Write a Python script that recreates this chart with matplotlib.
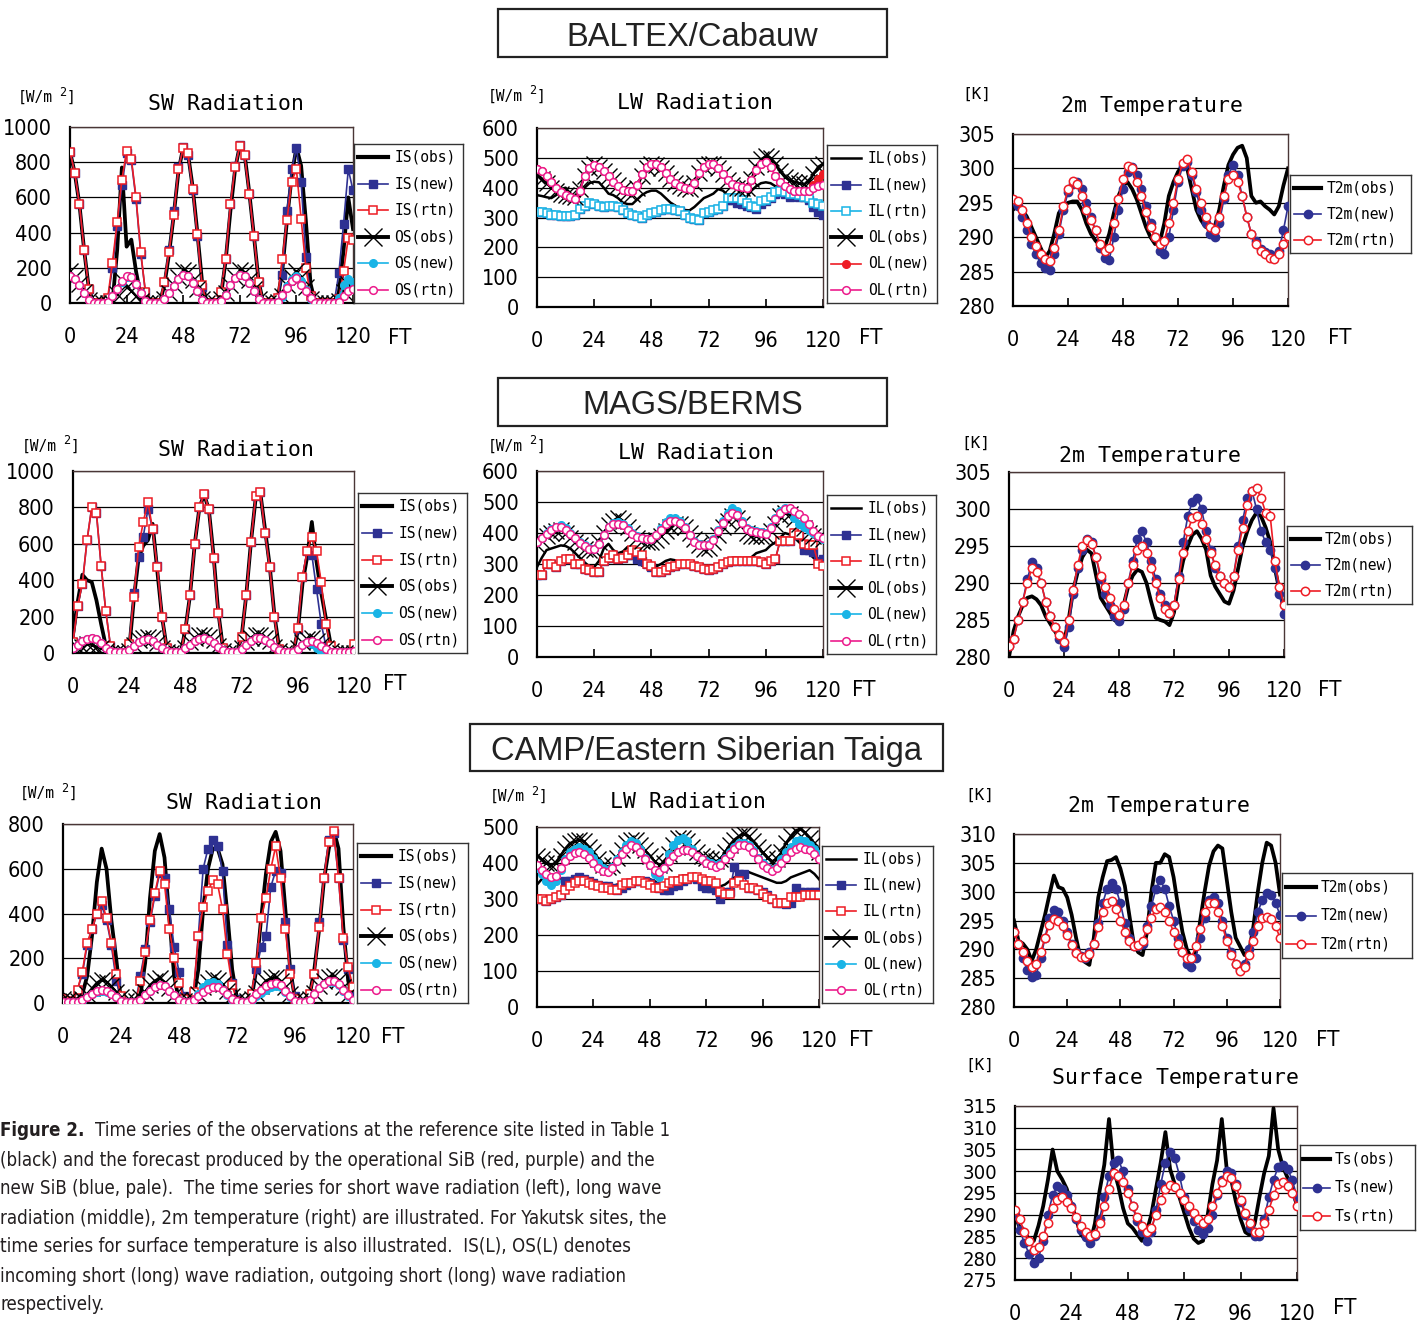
import numpy as np
import matplotlib
matplotlib.use('Agg')
import matplotlib.pyplot as plt
from matplotlib import font_manager as fm
from matplotlib.patches import Rectangle

W, H = 1428, 1321
HOURS = np.arange(0, 121, 2)          # forecast time FT (h), 2-hourly samples
X_TICKS = [0, 24, 48, 72, 96, 120]

# ------------------------------------------------------------------ DATA
# each list: FT 0..22 / 24..46 / 48..70 / 72..94 / 96..118 / 120
# ===== BALTEX/Cabauw =====
IS_obs1 = [860,740,560,300,80,0,0,0,0,0,300,770,
           320,360,180,40,0,0,0,0,100,280,500,750,
           885,850,660,400,120,0,0,0,40,240,520,760,
           895,850,630,380,120,0,0,0,20,180,470,720,
           885,780,470,110,0,0,0,0,0,60,300,600,
           420]
IS_new1 = [860,740,560,300,80,0,0,0,20,200,440,670,
           850,810,590,280,60,0,0,0,120,300,520,770,
           885,840,640,380,90,0,0,0,60,250,560,780,
           895,840,620,380,120,0,0,0,30,160,520,760,
           880,690,260,40,0,0,0,0,0,170,450,760,
           640]
IS_rtn1 = [860,740,560,300,80,0,0,0,30,230,460,700,
           865,820,600,290,60,0,0,0,120,290,500,760,
           880,850,650,390,100,0,0,0,60,250,560,770,
           890,840,620,380,120,0,0,0,30,250,470,690,
           760,480,200,40,0,0,0,0,0,20,180,370,
           360]
OS_obs1 = [180,150,110,60,15,0,0,0,0,0,50,130,
           90,70,40,10,0,0,0,0,20,55,100,150,
           185,175,130,80,25,0,0,0,20,55,100,150,
           185,175,130,80,25,0,0,0,5,40,100,150,
           180,150,90,25,0,0,0,0,0,10,60,110,
           90]
OS_new1 = [155,135,100,55,15,0,0,0,5,40,80,120,
           150,148,110,55,12,0,0,0,25,55,95,135,
           158,152,115,70,18,0,0,0,12,45,100,140,
           160,152,112,68,22,0,0,0,6,35,95,135,
           155,125,75,22,0,0,0,0,0,30,100,135,
           120]
OS_rtn1 = [155,135,100,55,15,0,0,0,5,42,82,125,
           155,150,110,55,12,0,0,0,25,55,95,135,
           158,152,115,70,18,0,0,0,12,45,100,140,
           160,152,112,68,22,0,0,0,6,45,85,125,
           140,105,70,30,0,0,0,0,0,5,40,70,
           80]
IL_obs1 = [375,372,368,365,375,395,400,375,355,370,400,415,
           420,418,400,380,375,365,350,345,345,360,375,385,
           390,390,380,365,350,340,330,325,324,335,350,365,
           372,380,395,390,375,360,352,355,370,390,405,415,
           418,415,405,400,398,395,393,390,388,390,395,405,
           410]
IL_new1 = [320,318,315,310,308,305,305,306,310,330,340,348,
           345,340,335,338,340,335,325,315,310,305,300,308,
           315,320,325,330,330,325,322,310,300,295,290,315,
           320,325,330,340,360,360,350,345,340,335,330,345,
           355,365,380,385,380,370,375,370,368,360,335,320,
           310]
IL_rtn1 = [320,318,315,310,308,305,305,306,310,330,340,348,
           345,340,335,338,340,335,325,315,310,305,300,308,
           315,320,325,330,330,325,322,310,300,295,290,315,
           320,325,330,340,365,365,365,360,350,340,335,355,
           360,370,385,390,385,380,380,375,370,365,350,345,
           340]
OL_obs1 = [440,430,415,400,390,380,375,372,370,395,440,465,
           478,470,455,440,425,410,395,385,380,400,440,465,
           478,475,465,450,430,415,405,398,395,415,450,470,
           480,478,465,445,425,410,400,398,400,430,470,495,
           505,500,480,455,435,425,420,415,412,420,445,470,
           480]
OL_new1 = [462,455,440,420,400,385,375,368,362,390,440,465,
           475,470,455,440,420,405,392,388,390,410,445,470,
           478,480,468,450,430,415,405,398,395,415,450,470,
           480,478,465,445,425,412,405,402,400,425,460,480,
           486,470,440,420,405,395,390,388,388,390,410,430,
           445]
OL_rtn1 = [462,455,440,420,400,385,375,368,362,390,440,465,
           475,470,455,440,420,405,392,388,390,410,445,470,
           478,480,468,450,430,415,405,398,395,415,450,470,
           480,478,465,445,425,412,405,402,400,425,460,480,
           486,470,440,420,405,395,390,388,388,390,400,405,
           410]
T2m_obs1 = [294,294.5,294,293,291.5,290,288.5,287,288,290.5,293.5,294.5,
            295,295.2,295.2,294,292,290.5,289.5,288.8,288.5,290.5,293.5,296,
            297.5,298,297,295.5,293.5,291.5,290,289,289.2,292,296,298,
            299.5,300.5,300,297,294,292.5,291.5,291.2,291.5,294,297.5,300.5,
            302,303,303.3,301.5,296,295,295.2,294.5,294,293.3,294.5,297.5,
            300]
T2m_new1 = [295.3,294.5,293,291,289,287.5,286.3,285.5,285.3,287.5,290.5,294,
            296.5,297.8,298,297,295,293,291,288.5,287,286.7,290,294,
            297,299.5,300.2,299,297,294.5,292,290,288,287.5,290,294,
            298,300.3,301,299,296.5,294,292,290.5,290,292,295.5,299,
            300.5,299,296,293,290.5,289.5,288.3,287.8,287.5,287.3,288,291,
            294.5]
T2m_rtn1 = [295.6,295.2,294,292,290,288.7,287.5,286.8,286.5,288.5,291,294.5,
            297,298.2,297.7,296,294,292.5,291,289,288,288.5,292,295.5,
            298.5,300.3,300,298,296,293.7,291.5,290,289,289.5,292,295,
            298.5,300.8,301.3,299.5,297,295,293,291.5,291,293,296,298.5,
            299,298,296,293,290.5,289,288,287.5,287,286.8,287.5,289,
            290.2]

# ===== MAGS/BERMS =====
IS_obs2 = [100,280,430,400,390,290,160,40,0,0,0,0,
           20,300,520,590,620,710,450,200,30,0,0,0,
           130,320,600,800,870,790,540,230,30,0,0,0,
           90,320,610,850,880,680,480,210,30,0,0,0,
           120,380,530,720,500,330,190,50,0,0,0,0,
           0]
IS_new2 = [60,260,380,620,800,770,480,230,40,0,0,0,
           50,330,530,640,790,680,480,200,30,0,0,0,
           130,320,600,800,875,790,520,220,30,0,0,0,
           90,320,610,860,885,660,470,200,20,0,0,0,
           130,420,560,540,350,160,40,0,0,0,0,0,
           0]
IS_rtn2 = [60,260,380,620,800,770,480,230,40,0,0,0,
           50,310,580,720,830,680,470,200,30,0,0,0,
           130,320,600,800,875,790,520,220,30,0,0,0,
           90,320,610,860,885,660,470,200,20,0,0,0,
           140,420,560,640,560,390,160,40,0,0,0,0,
           50]
OS_obs2 = [20,25,35,50,45,35,25,10,0,0,0,0,
           10,45,70,80,90,80,55,25,5,0,0,0,
           30,60,85,100,100,90,70,40,10,0,0,0,
           25,60,85,100,100,85,65,35,10,0,0,0,
           30,60,75,85,65,45,25,10,0,0,0,0,
           0]
OS_new2 = [30,45,65,75,80,75,55,30,12,5,5,5,
           15,40,60,70,75,65,45,25,10,5,5,5,
           25,45,65,78,80,72,55,35,15,5,5,5,
           20,45,65,80,80,70,55,35,15,5,5,5,
           20,45,60,50,25,8,5,5,5,5,5,5,
           5]
OS_rtn2 = [30,45,65,75,80,75,55,30,12,5,5,5,
           15,40,62,72,75,65,45,25,10,5,5,5,
           25,45,65,78,80,72,55,35,15,5,5,5,
           20,45,65,80,80,70,55,35,15,5,5,5,
           20,45,60,65,55,40,20,8,5,5,5,5,
           10]
IL_obs2 = [290,320,345,350,355,360,358,350,335,320,305,292,
           290,310,350,365,345,335,340,355,330,310,295,290,
           290,292,300,310,315,312,300,298,295,292,290,288,
           285,288,300,310,315,320,320,315,318,322,335,340,
           345,360,370,385,400,395,385,370,355,335,320,310,
           310]
IL_new2 = [265,265,300,300,290,310,315,315,300,300,285,280,
           275,275,310,320,330,315,320,330,330,315,310,300,
           290,275,275,280,290,295,300,300,300,295,290,285,
           280,285,290,300,305,310,310,310,310,310,310,305,
           300,310,315,375,375,375,400,395,345,345,340,310,
           315]
IL_rtn2 = [265,265,300,300,290,310,315,315,300,300,285,280,
           275,275,310,320,330,315,320,330,345,340,330,300,
           295,275,275,280,290,295,300,300,300,295,290,285,
           280,285,290,300,305,310,310,310,310,310,310,305,
           300,310,315,375,375,375,400,395,365,360,360,300,
           295]
OL_obs2 = [360,375,390,400,408,410,400,385,370,360,350,345,
           345,370,400,425,440,450,440,420,400,385,375,372,
           370,378,390,405,420,430,428,420,400,380,362,350,
           352,370,395,420,440,455,450,430,400,390,390,390,
           390,405,430,455,465,460,445,430,415,400,390,385,
           380]
OL_new2 = [372,385,400,412,420,425,415,400,385,370,360,352,
           348,365,395,420,432,435,430,415,400,390,385,380,
           382,395,415,435,448,450,440,420,395,375,365,362,
           365,380,410,440,465,480,470,440,415,410,405,402,
           400,420,450,470,480,478,450,430,420,410,400,390,
           382]
OL_rtn2 = [370,383,398,410,418,420,410,398,383,368,358,350,
           348,365,395,418,428,430,425,410,398,388,383,380,
           382,392,410,428,438,440,432,415,392,372,362,360,
           362,378,405,432,455,465,458,432,412,408,403,400,
           398,415,445,465,478,480,470,460,450,430,405,390,
           385]
T2m_obs2 = [280,283.5,285.5,287,288,288.2,287.8,287,285.5,284.5,283.5,282.5,
            282,285,289,291.5,293.5,294.5,294,291,288,287,286,285,
            284.5,287,289.5,291,291.8,291.5,290,287.5,285.3,285,284.8,284.3,
            286,290,293,295,296.5,297,296,294.5,291,289.5,288.5,287.5,
            287.2,289,292,295,297,298.5,299.5,299,297.5,295.5,292,289,
            286.5]
T2m_new2 = [281.5,282.5,285,287.5,290.5,292.8,292,290,287.5,285.5,284,282.5,
            281.3,284,288.5,292,294.5,296,295.5,293.5,290.5,288.5,287,285.5,
            284.8,286.5,290,293,296,297,295.5,293,290.5,288.5,287,286,
            287,291,295.5,299,301,301.5,300,297,294.5,292,291,290,
            289.5,291,295,298.5,301.5,302.5,300,297,295.5,294.5,292,288.5,
            285.8]
T2m_rtn2 = [281.5,282.5,285,287.5,290,292,291.5,290,287.5,285.5,284,283,
            282,285,289,292.5,295,295.8,295.3,293.5,291,289.5,288,286.5,
            285.7,287,290,292.5,294.5,295,294,292,290,288,286.5,286,
            287,290.5,294,297,298.8,299,298,296,294,292.5,291,290,
            289.5,291,294.5,297.5,300.5,302.5,302.8,301.5,299.5,299,293,289.5,
            287]

# ===== CAMP/Eastern Siberian Taiga =====
IS_obs3 = [40,20,10,10,40,120,300,540,690,600,370,200,
           10,0,0,0,30,180,470,680,755,650,380,120,
           10,0,0,20,150,420,600,690,690,620,400,150,
           20,0,0,20,150,380,580,720,765,680,420,150,
           20,0,0,30,150,330,550,690,775,690,340,100,
           10]
IS_new3 = [20,10,5,60,130,260,330,400,440,370,260,100,
           20,0,0,0,120,240,360,480,580,560,420,250,
           140,30,0,40,300,600,690,730,700,590,260,90,
           20,0,0,40,150,250,300,520,590,580,360,150,
           30,0,0,40,130,360,560,730,760,560,280,150,
           50]
IS_rtn3 = [20,10,5,60,140,270,330,400,455,380,270,130,
           30,0,0,0,100,230,370,490,590,530,330,200,
           90,20,0,50,300,430,500,550,530,420,220,80,
           10,0,0,40,180,380,470,600,700,560,330,130,
           20,0,0,40,130,340,560,720,770,560,290,160,
           70]
OS_obs3 = [20,15,10,10,20,40,65,90,105,95,75,50,
           25,10,10,10,25,50,80,100,110,95,65,35,
           15,10,10,15,40,70,95,110,105,85,55,30,
           15,10,10,20,45,75,100,110,115,100,70,40,
           15,10,10,20,45,75,100,115,120,105,70,35,
           10]
OS_new3 = [5,5,5,5,10,25,40,50,55,50,40,25,
           10,5,5,5,15,35,55,70,80,75,55,35,
           15,5,5,15,40,70,90,95,85,60,35,15,
           5,5,5,15,30,45,60,70,75,70,50,25,
           10,5,5,15,40,65,85,95,95,80,55,30,
           10]
OS_rtn3 = [5,5,5,5,12,28,42,55,60,55,42,25,
           10,5,5,5,15,35,55,70,80,75,55,35,
           15,5,5,12,30,50,62,70,70,60,40,20,
           8,5,5,18,40,60,75,85,90,80,55,30,
           10,5,5,15,40,65,85,98,100,85,60,35,
           15]
IL_obs3 = [340,355,360,355,350,355,355,355,360,365,360,355,
           350,345,340,340,335,340,345,345,350,355,350,355,
           355,350,340,335,340,350,360,365,365,360,355,350,
           345,340,335,335,340,350,360,365,370,375,370,365,
           360,355,350,345,345,350,360,365,370,375,380,370,
           355]
IL_new3 = [300,300,295,300,305,310,350,350,355,360,355,350,
           345,340,335,335,330,325,330,340,345,350,350,350,
           345,335,330,325,325,335,340,350,355,360,355,335,
           330,330,325,300,320,320,390,370,370,330,330,325,
           320,310,300,290,290,285,290,330,320,320,320,320,
           320]
IL_rtn3 = [300,300,295,300,305,310,325,335,345,350,350,345,
           340,335,330,330,325,325,340,345,345,350,350,345,
           340,330,330,335,345,350,350,355,355,360,360,355,
           350,350,345,320,315,315,345,350,340,330,330,325,
           315,305,300,290,290,290,305,305,305,310,310,310,
           310]
OL_obs3 = [420,410,400,395,400,420,440,455,460,465,460,445,
           430,410,395,390,395,415,435,455,465,465,450,435,
           420,405,395,400,425,450,470,470,460,445,430,420,
           415,410,405,410,430,450,465,475,480,475,460,445,
           430,415,405,410,430,455,475,490,495,485,470,455,
           430]
OL_new3 = [385,370,350,340,350,380,410,430,440,445,440,430,
           415,400,385,380,390,410,430,450,460,455,440,415,
           395,370,360,385,425,450,465,470,460,440,420,410,
           405,400,395,400,415,430,445,455,455,450,435,415,
           400,390,380,390,410,430,445,460,465,460,450,440,
           425]
OL_rtn3 = [395,380,370,360,365,385,405,420,428,430,425,415,
           400,385,378,375,385,405,425,440,450,445,430,410,
           395,380,375,385,405,420,430,435,435,430,420,410,
           400,395,390,395,410,425,440,450,450,445,430,410,
           395,385,378,385,400,415,430,440,445,440,435,425,
           410]
T2m_obs3 = [295,291.5,291,290,288,290,293,296,299.5,302.8,300.8,300.5,
            299,296,292,288.5,287.8,287.3,292,299,302.5,305.3,305.5,306,
            304,301,296,291,289.5,289,293,300,305,305,306.5,306,
            302.5,297.5,293,290,288.5,289.5,295,300,304.5,307,308,307.5,
            302,296.5,292,290.5,289,289.5,294,300,305,308.5,308,305,
            299.5]
T2m_new3 = [293,291,288.5,286.5,285.2,285.5,288.5,292,295.5,296.8,296.5,295,
            293,291,289.5,288.8,288.5,289.5,291,294.5,298,300.5,301.5,300.5,
            298,294.5,292,290.5,290.5,291,294,297.5,300.5,302,300.5,297.5,
            295,292,289.5,287.5,287,288.5,292,295.5,298.5,299,298,295,
            292,289.5,287.5,286.5,287.5,290,293,296.5,298.5,299.7,299.5,298,
            296]
T2m_rtn3 = [293,291,289.5,288,287,287.5,289.5,292,294.3,295.3,295,294,
            292.5,290.8,289.3,288.7,288.7,289.2,291,293.8,296.5,298,298.3,297,
            295,293,291.5,290.5,290.7,291.5,293.5,295.5,297,297.3,296.5,295,
            293,291,289.5,288.5,288.5,290.5,293.5,296.5,298,298,296.5,294,
            291.5,289,287.5,286.2,287,289,291.5,294,295.5,295.6,295.2,294,
            292]
Ts_obs3 = [290,287,285.8,284.5,284,287.5,292,298,305,300,298.2,296,
           292.5,289,285.5,284.3,283.5,288,295.5,301.5,312,300.5,296.5,291.5,
           288,287,285.5,284,286,290,296,302,309,300.5,297,294,
           290.5,287,284.5,283.5,284,290,297,302.5,312,301,298,293,
           289,286,285.3,288,294,299.5,303.5,314.5,305,301,298.5,296,
           292]
Ts_new3 = [290,286.5,283.5,281,279,280,284,290,294.5,296.5,296,294.5,
           292,289,286.5,284.8,283.5,285,289,294,299,302,302.5,300,
           296,292,288.5,286,284,286,291,297,302,304.5,303,299,
           294,291,288.5,286.5,285.5,287,290,294.5,298,300,299.5,297,
           293,290,287,285,285,289,294,298,301,301.5,300.5,298,
           294]
Ts_rtn3 = [291,289,286,284,282,282.5,285,288,291.5,293.5,294,293,
           291.5,289.5,287.5,286,285,285.5,288,292,296,299.5,299,297.5,
           295,292,289.5,287.5,286,287,290,293.5,296,296.8,296.3,295,
           293.5,292,290.5,289,288,289,292,295,297.5,299,298.5,296.5,
           293.5,290.5,288,286,286,288,291,294.5,297,297.5,296.5,295,
           292]

# ------------------------------------------------------------------ FONTS
_names = {f.name for f in fm.fontManager.ttflist}
if 'Liberation Sans Narrow' in _names:
    NARROW = dict(family='Liberation Sans Narrow')
    CAP_FS = 15.3
else:
    NARROW = dict(family='DejaVu Sans', stretch='condensed')
    CAP_FS = 13.4
MONO = dict(family='DejaVu Sans Mono')
ARIAL = dict(family='Liberation Sans')
CAPCOL = '#231f20'

# ------------------------------------------------------------------ STYLES
NAVY, RED, CYAN, MAG = '#2e3192', '#ee1c25', '#19b4e6', '#ec1c8c'
STY = {
    'obs':   dict(color='black', lw=2.7),
    'obsth': dict(color='black', lw=1.8),
    'obsx':  dict(color='black', lw=1.8, marker='x', ms=11, mew=1.0),
    'sq_navy': dict(color=NAVY, lw=1.2, marker='s', ms=5.5, mfc=NAVY, mec=NAVY),
    'sqo_red': dict(color=RED, lw=1.2, marker='s', ms=5.5, mfc='white', mec=RED, mew=1.1),
    'sqo_cyan': dict(color=CYAN, lw=1.2, marker='s', ms=5.5, mfc='white', mec=CYAN, mew=1.1),
    'o_cyan': dict(color=CYAN, lw=1.2, marker='o', ms=5.5, mfc=CYAN, mec=CYAN),
    'o_red':  dict(color=RED, lw=1.2, marker='o', ms=5.5, mfc=RED, mec=RED),
    'oo_mag': dict(color=MAG, lw=1.2, marker='o', ms=5.5, mfc='white', mec=MAG, mew=1.1),
    'o_navy': dict(color=NAVY, lw=1.2, marker='o', ms=6, mfc=NAVY, mec=NAVY),
    'oo_red': dict(color=RED, lw=1.2, marker='o', ms=6, mfc='white', mec=RED, mew=1.1),
}

fig = plt.figure(figsize=(W / 100, H / 100), dpi=100)


def fbox(l, t, r, b):
    return [l / W, 1 - b / H, (r - l) / W, (b - t) / H]


def ftext(x, y, s, **kw):
    return fig.text(x / W, 1 - y / H, s, **kw)


def panel(box, ylim, step, series, tick_fs=15.5):
    ax = fig.add_axes(fbox(*box))
    for i, (y, st) in enumerate(series):
        n = min(len(HOURS), len(y))
        ax.plot(HOURS[:n], y[:n], zorder=3 + i * 0.1, **STY[st])
    ax.set_xlim(0, 120)
    ax.set_ylim(*ylim)
    yt = list(range(ylim[0], ylim[1] + 1, step))
    ax.set_yticks(yt)
    ax.set_yticklabels([str(v) for v in yt], fontsize=tick_fs, **NARROW)
    ax.set_xticks(X_TICKS)
    ax.set_xticklabels([str(v) for v in X_TICKS], fontsize=15.5, **NARROW)
    ax.tick_params(axis='x', direction='in', length=6, width=1.2, pad=17)
    ax.tick_params(axis='y', length=0, pad=13)
    ax.set_axisbelow(True)
    ax.yaxis.grid(True, color='black', lw=0.9)
    for s in ('left', 'bottom'):
        ax.spines[s].set_linewidth(1.6)
        ax.spines[s].set_color('black')
    for s in ('top', 'right'):
        ax.spines[s].set_linewidth(1.0)
        ax.spines[s].set_color('#4a3636')
    return ax


def legend(box, entries, fs):
    lax = fig.add_axes(fbox(*box))
    lax.set_xlim(0, 1)
    lax.set_ylim(0, 1)
    lax.set_xticks([])
    lax.set_yticks([])
    for sp in lax.spines.values():
        sp.set_linewidth(1.0)
        sp.set_color('#333333')
    n = len(entries)
    if n > 3:
        x0, x1, xt = 0.04, 0.31, 0.37
    else:
        x0, x1, xt = 0.03, 0.26, 0.30
    for i, (label, st) in enumerate(entries):
        yy = 1 - (i + 0.5) / n
        kw = dict(STY[st])
        if st == 'obsx':
            kw['ms'] = 13
            kw['lw'] = 2.8
        if st == 'obs':
            kw['lw'] = 3.0
        lax.plot([x0, (x0 + x1) / 2, x1], [yy] * 3, markevery=[1], **kw)
        lax.text(xt, yy, label, fontsize=fs, va='center', ha='left', **MONO)


def heading(l, t, r, b, s):
    fig.add_artist(Rectangle((l / W, 1 - b / H), (r - l) / W, (b - t) / H,
                             transform=fig.transFigure, fill=False,
                             edgecolor='#222222', lw=1.6))
    ftext((l + r) / 2, (t + b) / 2 + 4, s, ha='center', va='center',
          fontsize=23.5, color='#222222', **ARIAL)


def unit_label(x, y, kind):
    if kind == 'W':
        ftext(x, y, '[W/m', ha='left', va='center', fontsize=10.5, **MONO)
        ftext(x + 41, y - 5, '2', ha='left', va='center', fontsize=8.5, **MONO)
        ftext(x + 49, y, ']', ha='left', va='center', fontsize=10.5, **MONO)
    else:
        ftext(x, y, '[K]', ha='left', va='center', fontsize=11.5, **MONO)


def labels(title, tx, ty, kind, ux, uy, ftx, fty):
    ftext(tx, ty, title, ha='center', va='center', fontsize=15.5, **MONO)
    unit_label(ux, uy, kind)
    ftext(ftx, fty, 'FT', ha='center', va='center', fontsize=16, **NARROW)


SW_LEG = [('IS(obs)', 'obs'), ('IS(new)', 'sq_navy'), ('IS(rtn)', 'sqo_red'),
          ('OS(obs)', 'obsx'), ('OS(new)', 'o_cyan'), ('OS(rtn)', 'oo_mag')]
LW_LEG1 = [('IL(obs)', 'obsth'), ('IL(new)', 'sq_navy'), ('IL(rtn)', 'sqo_cyan'),
           ('OL(obs)', 'obsx'), ('OL(new)', 'o_red'), ('OL(rtn)', 'oo_mag')]
LW_LEG2 = [('IL(obs)', 'obsth'), ('IL(new)', 'sq_navy'), ('IL(rtn)', 'sqo_red'),
           ('OL(obs)', 'obsx'), ('OL(new)', 'o_cyan'), ('OL(rtn)', 'oo_mag')]
T_LEG = [('T2m(obs)', 'obs'), ('T2m(new)', 'o_navy'), ('T2m(rtn)', 'oo_red')]
TS_LEG = [('Ts(obs)', 'obs'), ('Ts(new)', 'o_navy'), ('Ts(rtn)', 'oo_red')]

# ------------------------------------------------------------------ ROW 1
heading(498, 9, 887, 57, 'BALTEX/Cabauw')
panel((70, 127, 353, 303), (0, 1000), 200,
      [(IS_obs1, 'obs'), (IS_new1, 'sq_navy'), (IS_rtn1, 'sqo_red'),
       (OS_obs1, 'obsx'), (OS_new1, 'o_cyan'), (OS_rtn1, 'oo_mag')])
legend((354, 144, 463, 303), SW_LEG, 10.5)
labels('SW Radiation', 226, 104, 'W', 18, 97, 400, 338)

panel((537, 128, 823, 307), (0, 600), 100,
      [(IL_obs1, 'obsth'), (IL_new1, 'sq_navy'), (IL_rtn1, 'sqo_cyan'),
       (OL_obs1, 'obsx'), (OL_new1, 'o_red'), (OL_rtn1, 'oo_mag')])
legend((827, 145, 937, 303), LW_LEG1, 10.5)
labels('LW Radiation', 695, 103, 'W', 488, 96, 871, 338)

panel((1013, 134, 1288, 306), (280, 305), 5,
      [(T2m_obs1, 'obs'), (T2m_new1, 'o_navy'), (T2m_rtn1, 'oo_red')])
legend((1290, 175, 1411, 253), T_LEG, 10.5)
labels('2m Temperature', 1152, 106, 'K', 962, 94, 1340, 338)

# ------------------------------------------------------------------ ROW 2
heading(498, 378, 887, 426, 'MAGS/BERMS')
panel((73, 471, 354, 653), (0, 1000), 200,
      [(IS_obs2, 'obs'), (IS_new2, 'sq_navy'), (IS_rtn2, 'sqo_red'),
       (OS_obs2, 'obsx'), (OS_new2, 'o_cyan'), (OS_rtn2, 'oo_mag')])
legend((358, 493, 467, 653), SW_LEG, 10.5)
labels('SW Radiation', 236, 450, 'W', 22, 446, 395, 684)

panel((537, 471, 823, 657), (0, 600), 100,
      [(IL_obs2, 'obsth'), (IL_new2, 'sq_navy'), (IL_rtn2, 'sqo_red'),
       (OL_obs2, 'obsx'), (OL_new2, 'o_cyan'), (OL_rtn2, 'oo_mag')])
legend((827, 495, 936, 654), LW_LEG2, 10.5)
labels('LW Radiation', 696, 453, 'W', 488, 446, 864, 690)

panel((1009, 472, 1284, 657), (280, 305), 5,
      [(T2m_obs2, 'obs'), (T2m_new2, 'o_navy'), (T2m_rtn2, 'oo_red')])
legend((1287, 526, 1412, 604), T_LEG, 10.5)
labels('2m Temperature', 1150, 456, 'K', 961, 443, 1330, 690)

# ------------------------------------------------------------------ ROW 3
heading(470, 724, 943, 771, 'CAMP/Eastern Siberian Taiga')
panel((63, 824, 353, 1003), (0, 800), 200,
      [(IS_obs3, 'obs'), (IS_new3, 'sq_navy'), (IS_rtn3, 'sqo_red'),
       (OS_obs3, 'obsx'), (OS_new3, 'o_cyan'), (OS_rtn3, 'oo_mag')])
legend((357, 843, 468, 1003), SW_LEG, 10.5)
labels('SW Radiation', 244, 803, 'W', 20, 793, 393, 1037)

panel((537, 827, 819, 1007), (0, 500), 100,
      [(IL_obs3, 'obsth'), (IL_new3, 'sq_navy'), (IL_rtn3, 'sqo_red'),
       (OL_obs3, 'obsx'), (OL_new3, 'o_cyan'), (OL_rtn3, 'oo_mag')])
legend((822, 846, 933, 1003), LW_LEG2, 10.5)
labels('LW Radiation', 688, 802, 'W', 490, 796, 861, 1040)

panel((1014, 834, 1280, 1007), (280, 310), 5,
      [(T2m_obs3, 'obs'), (T2m_new3, 'o_navy'), (T2m_rtn3, 'oo_red')])
legend((1282, 873, 1412, 958), T_LEG, 10.5)
labels('2m Temperature', 1159, 806, 'K', 965, 795, 1328, 1040)

panel((1015, 1106, 1297, 1280), (275, 315), 5,
      [(Ts_obs3, 'obs'), (Ts_new3, 'o_navy'), (Ts_rtn3, 'oo_red')], tick_fs=14.5)
legend((1300, 1145, 1415, 1230), TS_LEG, 10.5)
labels('Surface Temperature', 1175, 1078, 'K', 965, 1065, 1345, 1308)

# ------------------------------------------------------------------ CAPTION
CAPTION = [
    "(black) and the forecast produced by the operational SiB (red, purple) and the",
    "new SiB (blue, pale).  The time series for short wave radiation (left), long wave",
    "radiation (middle), 2m temperature (right) are illustrated. For Yakutsk sites, the",
    "time series for surface temperature is also illustrated.  IS(L), OS(L) denotes",
    "incoming short (long) wave radiation, outgoing short (long) wave radiation",
    "respectively.",
]
ftext(0, 1131, 'Figure 2.', ha='left', va='center', fontsize=CAP_FS,
      fontweight='bold', color=CAPCOL, **NARROW)
ftext(95, 1131, 'Time series of the observations at the reference site listed in Table 1',
      ha='left', va='center', fontsize=CAP_FS, color=CAPCOL, **NARROW)
for i, line in enumerate(CAPTION):
    ftext(0, 1160 + 29 * i, line, ha='left', va='center', fontsize=CAP_FS,
          color=CAPCOL, **NARROW)

fig.savefig('out.png', dpi=100)
